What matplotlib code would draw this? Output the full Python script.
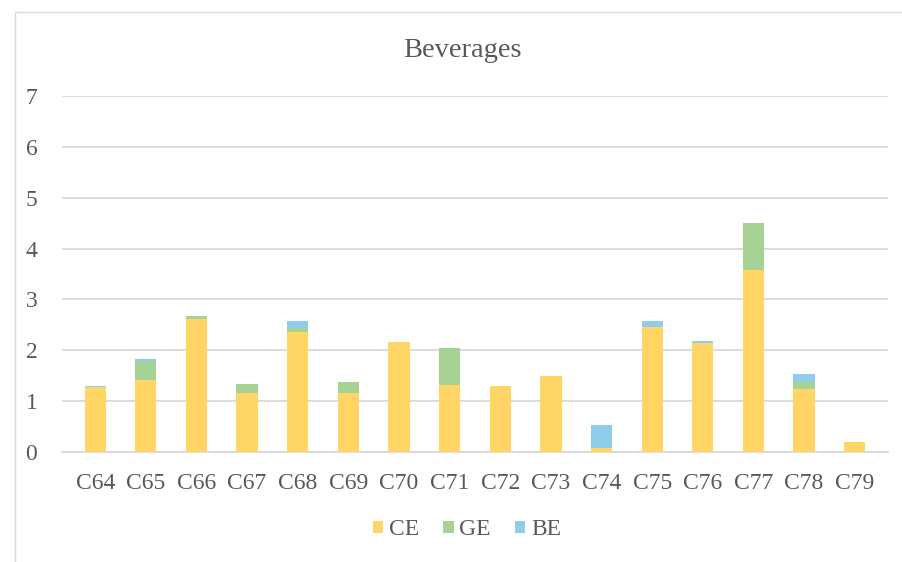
import numpy as np
import matplotlib.pyplot as plt
from matplotlib.lines import Line2D

plt.rcParams['font.family'] = ['Liberation Serif', 'DejaVu Serif']

categories = ['C64', 'C65', 'C66', 'C67', 'C68', 'C69', 'C70', 'C71',
              'C72', 'C73', 'C74', 'C75', 'C76', 'C77', 'C78', 'C79']
ce = [1.27, 1.41, 2.61, 1.16, 2.36, 1.16, 2.16, 1.31,
      1.30, 1.49, 0.07, 2.46, 2.14, 3.58, 1.23, 0.19]
ge = [0.00, 0.38, 0.06, 0.18, 0.08, 0.22, 0.00, 0.73,
      0.00, 0.00, 0.00, 0.00, 0.00, 0.92, 0.14, 0.00]
be = [0.03, 0.04, 0.00, 0.00, 0.13, 0.00, 0.00, 0.00,
      0.00, 0.00, 0.45, 0.11, 0.05, 0.00, 0.16, 0.00]

fig = plt.figure(figsize=(9.03, 5.62), dpi=100)
ax = fig.add_axes([0.069, 0.196, 0.914, 0.633])

x = np.arange(len(categories))
w = 0.42
ce_a = np.array(ce)
ge_a = np.array(ge)
be_a = np.array(be)
ax.bar(x, ce_a, w, color='#FFD666', label='CE', zorder=3)
ax.bar(x, ge_a, w, bottom=ce_a, color='#A6D395', label='GE', zorder=3)
ax.bar(x, be_a, w, bottom=ce_a + ge_a, color='#8FCDEA', label='BE', zorder=3)

ax.set_ylim(0, 7)
ax.set_xlim(-0.65, len(categories) - 0.35)
ax.set_yticks(range(0, 8))
ax.set_xticks(x)
ax.set_xticklabels(categories)
ax.tick_params(length=0, labelsize=17, colors='#595959')
ax.tick_params(axis='y', pad=18)
ax.tick_params(axis='x', pad=15)
ax.grid(axis='y', color='#D9D9D9', linewidth=1.3, zorder=0)
for s in ['top', 'right', 'left']:
    ax.spines[s].set_visible(False)
ax.spines['bottom'].set_color('#D9D9D9')
ax.spines['bottom'].set_linewidth(1.3)

fig.text(0.512, 0.911, 'Beverages', ha='center', va='center',
         fontsize=20.5, color='#595959')

leg = fig.legend(loc='center', bbox_to_anchor=(0.517, 0.057), ncol=3,
                 frameon=False, fontsize=17, handlelength=0.45, handleheight=0.45,
                 handletextpad=0.25, columnspacing=1.0, labelcolor='#595959')

# chart frame: only top and left edges visible in the crop
fig.lines.append(Line2D([0.017, 0.017, 1.0], [0.0, 0.978, 0.978],
                        transform=fig.transFigure, color='#D9D9D9', linewidth=1))

fig.savefig('out.png', dpi=100)
